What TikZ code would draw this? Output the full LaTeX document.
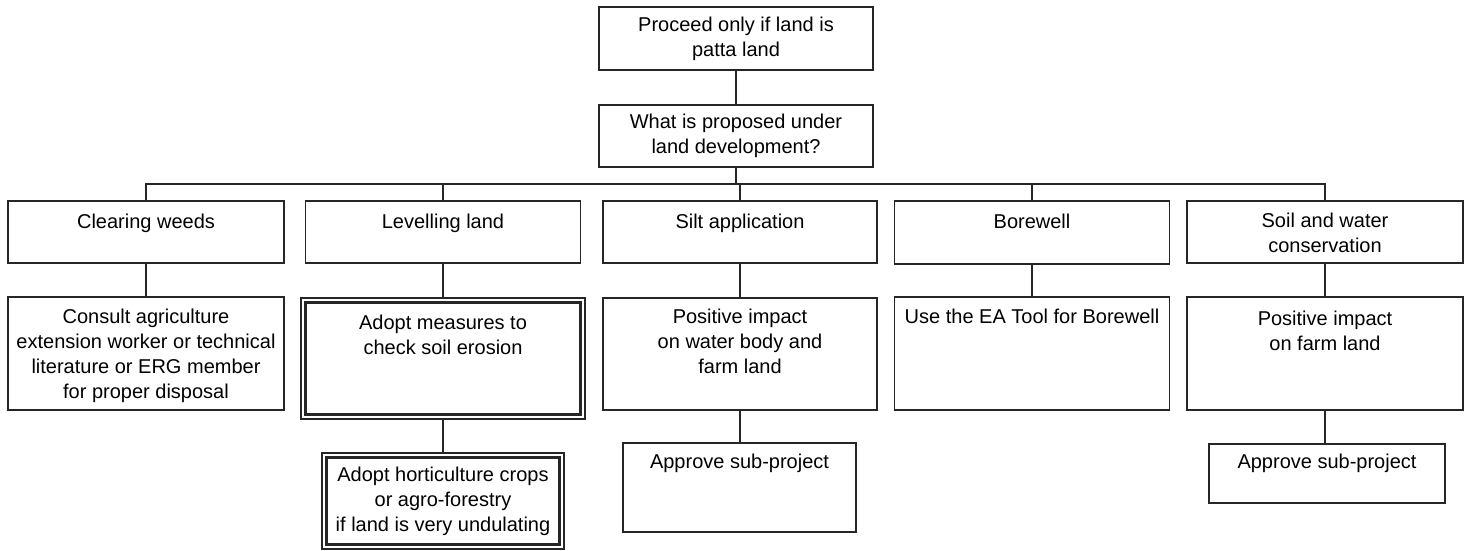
\documentclass[tikz,border=0pt]{standalone}
\usepackage{fontspec}
\setmainfont{Liberation Sans}
% text block of a box: width, height, top padding, text (top aligned, centred)
\newcommand{\celltext}[4]{\parbox[c][#2][t]{#1}{\centering\vspace*{#3}\strut #4}}
\begin{document}
\begin{tikzpicture}[x=1pt,y=-1pt,
  box/.style={draw=black!85, line width=1.3pt, inner sep=0pt, outer sep=0pt,
    anchor=north west, font=\fontsize{20}{25}\selectfont},
  innerbox/.style={box, anchor=center, line width=2.6pt},
  outerbox/.style={draw=black!85, line width=1.1pt, inner sep=0pt, outer sep=0pt},
  link/.style={draw=black!85, line width=1.3pt}]

\fill[white] (0,0) rectangle (1469,550);
\useasboundingbox (0,0) rectangle (1469,550);

% top of the tree
\node[box] (patta) at (599,7) {\celltext{274pt}{63pt}{6.5pt}{Proceed only if land is\\patta land}};
\node[box] (what) at (599,105) {\celltext{274pt}{62pt}{5.5pt}{What is proposed under\\land development?}};

% kinds of land development
\node[box] (cw)   at (8,201)     {\celltext{276pt}{62pt}{10pt}{Clearing weeds}};
\node[box] (lev)  at (305.5,201) {\celltext{275pt}{62pt}{10pt}{Levelling land}};
\node[box] (silt) at (603,201)   {\celltext{274pt}{62pt}{10pt}{Silt application}};
\node[box] (bore) at (894.5,201) {\celltext{275pt}{63pt}{10pt}{Borewell}};
\node[box] (swc)  at (1187,201)  {\celltext{276pt}{62pt}{9pt}{Soil and water\\conservation}};

% second level
\node[box] (consult) at (8,297) {\celltext{276pt}{113pt}{9pt}{Consult agriculture\\extension worker or technical\\literature or ERG member\\for proper disposal}};
\node[outerbox, minimum width=284pt, minimum height=121pt] (meas) at (443,358.5) {};
\node[innerbox] (meastext) at (443,358.5) {\celltext{275pt}{112pt}{9pt}{Adopt measures to\\check soil erosion}};
\node[box] (posw) at (603,298)    {\celltext{274pt}{112pt}{8pt}{Positive impact\\on water body and\\farm land}};
\node[box] (ea)   at (894.5,297)  {\celltext{275pt}{113pt}{9pt}{Use the EA Tool for Borewell}};
\node[box] (posf) at (1187,297)   {\celltext{276pt}{113pt}{10.5pt}{Positive impact\\on farm land}};

% third level
\node[outerbox, minimum width=242pt, minimum height=96pt] (hort) at (443,501) {};
\node[innerbox] (horttext) at (443,501) {\celltext{233pt}{87pt}{6.5pt}{Adopt horticulture crops\\or agro-forestry\\if land is very undulating}};
\node[box] (appr1) at (623,443)  {\celltext{233pt}{89pt}{8pt}{Approve sub-project}};
\node[box] (appr2) at (1209,444) {\celltext{236pt}{59pt}{7pt}{Approve sub-project}};

% connectors
\draw[link] (patta.south) -- (what.north);
\coordinate (bus) at (736,184);
\draw[link] (what.south) -- (bus);
\foreach \c in {cw,lev,silt,bore,swc}
  \draw[link] (\c.north) |- (bus);
\draw[link] (cw.south)   -- (cw.south |- consult.north);
\draw[link] (lev.south)  -- (lev.south |- meas.north);
\draw[link] (meas.south) -- (meas.south |- hort.north);
\draw[link] (silt.south) -- (silt.south |- posw.north);
\draw[link] (posw.south) -- (posw.south |- appr1.north);
\draw[link] (bore.south) -- (bore.south |- ea.north);
\draw[link] (swc.south)  -- (swc.south |- posf.north);
\draw[link] (posf.south) -- (posf.south |- appr2.north);
\end{tikzpicture}
\end{document}
